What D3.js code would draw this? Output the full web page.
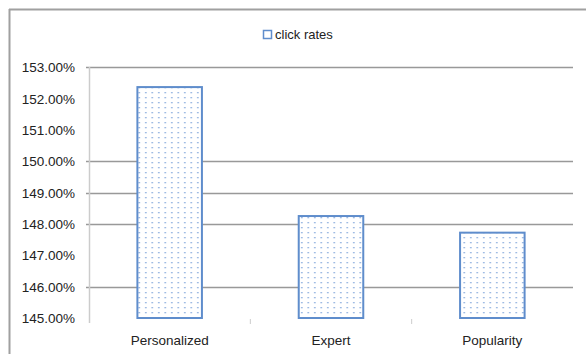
<!DOCTYPE html>
<html>
<head>
<meta charset="utf-8">
<script src="https://cdn.jsdelivr.net/npm/d3@7"></script>
<style>
  html, body { margin: 0; padding: 0; background: #fff; }
  svg { display: block; }
  text { font-family: "Liberation Sans", Arial, sans-serif; fill: #222; }
</style>
</head>
<body>
<svg id="chart" width="586" height="354"></svg>
<script>
const categories = ["Personalized", "Expert", "Popularity"];
const clickRates = [152.36, 148.25, 147.72];
const seriesName = "click rates";
const yTicks = [145, 146, 147, 148, 149, 150, 151, 152, 153];
const gridValues = [153, 150, 149, 148, 146];

const svg = d3.select("#chart");
const W = 586, H = 354;
const plot = { left: 89, right: 573, top: 67, bottom: 318 };

// outer frame (top and left edges visible)
svg.append("line").attr("x1", 9).attr("x2", W).attr("y1", 9.5).attr("y2", 9.5)
  .attr("stroke", "#a0a0a0").attr("stroke-width", 2);
svg.append("line").attr("x1", 9.5).attr("x2", 9.5).attr("y1", 9).attr("y2", H)
  .attr("stroke", "#a0a0a0").attr("stroke-width", 2);

// pattern
const defs = svg.append("defs");
const pat = defs.append("pattern").attr("id", "dots")
  .attr("patternUnits", "userSpaceOnUse").attr("width", 6.5).attr("height", 5);
pat.append("rect").attr("width", 6.5).attr("height", 5).attr("fill", "#fff");
pat.append("rect").attr("x", 2).attr("y", 2).attr("width", 1.6).attr("height", 1.3)
  .attr("fill", "#8fb0de");

const x = d3.scaleBand().domain(categories).range([plot.left, plot.right]).paddingInner(0).paddingOuter(0);
const y = d3.scaleLinear().domain([145, 153]).range([plot.bottom, plot.top]);

// gridlines
svg.append("g").selectAll("line").data(gridValues).join("line")
  .attr("x1", plot.left - 3).attr("x2", plot.right)
  .attr("y1", d => Math.round(y(d)) + 0.5).attr("y2", d => Math.round(y(d)) + 0.5)
  .attr("stroke", "#999").attr("stroke-width", 1.5);

// y axis
const yAxis = d3.axisLeft(y).tickValues(yTicks)
  .tickFormat(d => d3.format(".2f")(d) + "%").tickSize(0).tickPadding(14);
const gy = svg.append("g").attr("transform", `translate(${plot.left},0)`).call(yAxis);
gy.select(".domain").remove();
gy.selectAll("text").attr("font-size", 13.5).attr("fill", "#222")
  .attr("font-family", "Liberation Sans, Arial, sans-serif").attr("dy", "0.35em");
svg.append("line").attr("x1", plot.left + 0.5).attr("x2", plot.left + 0.5)
  .attr("y1", plot.top).attr("y2", plot.bottom + 5).attr("stroke", "#ccc").attr("stroke-width", 1.5);

// category ticks
const bounds = categories.slice(1).map(c => x(c));
svg.append("g").selectAll("line").data(bounds).join("line")
  .attr("x1", d => d).attr("x2", d => d)
  .attr("y1", plot.bottom + 1).attr("y2", plot.bottom + 6)
  .attr("stroke", "#ccc").attr("stroke-width", 1);

// bars
const bw = x.bandwidth() * 0.4;
svg.append("g").selectAll("rect").data(categories).join("rect")
  .attr("x", c => x(c) + (x.bandwidth() - bw) / 2)
  .attr("y", (c, i) => y(clickRates[i]))
  .attr("width", bw)
  .attr("height", (c, i) => y(145) - y(clickRates[i]))
  .attr("fill", "url(#dots)")
  .attr("stroke", "#5f8dcc").attr("stroke-width", 2);

// x labels
const xAxis = d3.axisBottom(x).tickSize(0).tickPadding(17);
const gx = svg.append("g").attr("transform", `translate(0,${plot.bottom})`).call(xAxis);
gx.select(".domain").remove();
gx.selectAll("text").attr("font-size", 13.5).attr("fill", "#222")
  .attr("font-family", "Liberation Sans, Arial, sans-serif");

// legend
const lg = svg.append("g").attr("transform", "translate(263,30)");
lg.append("rect").attr("x", 0.5).attr("y", 0.5).attr("width", 8).attr("height", 8)
  .attr("fill", "#fff").attr("stroke", "#5f8dcc").attr("stroke-width", 1.5);
lg.append("text").attr("x", 12).attr("y", 9).attr("font-size", 13).text(seriesName);
</script>
</body>
</html>
